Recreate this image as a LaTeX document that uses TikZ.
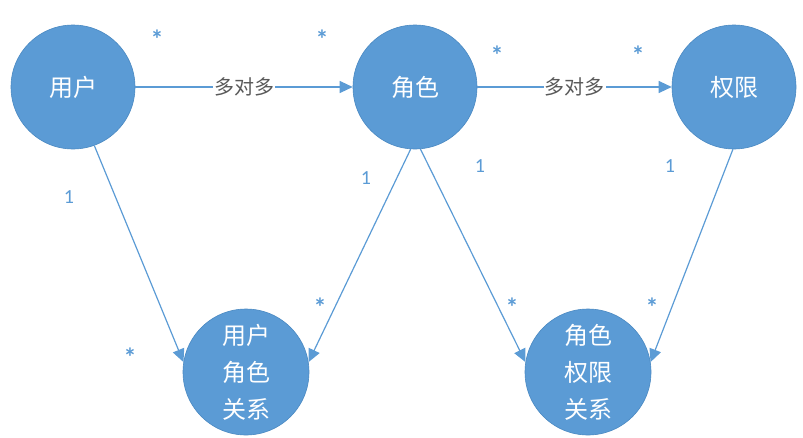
\documentclass[tikz,border=0pt]{standalone}
\usepackage{fontspec}
\setmainfont{Noto Sans CJK SC}
\newfontfamily\numfont{Carlito}
\usetikzlibrary{arrows.meta}
\definecolor{nodeblue}{HTML}{5B9BD5}
\definecolor{edgeblue}{HTML}{4A89C2}
\definecolor{labelgray}{HTML}{595959}

\begin{document}
\begin{tikzpicture}[x=1pt, y=-1pt,
		ent/.style={circle, fill=nodeblue, draw=edgeblue, line width=0.6pt, minimum size=124pt, inner sep=0pt,
			text=white, align=center, font=\fontsize{24}{37}\selectfont},
		rel/.style={draw=nodeblue, line width=1.2pt, -{Triangle[length=13pt, width=12pt]}},
		kind/.style={fill=white, inner sep=1pt, text=labelgray, font=\fontsize{20}{20}\selectfont},
		mult/.style={text=nodeblue, inner sep=0pt, font=\numfont\fontsize{20}{20}\selectfont},
		star/.style={text=nodeblue, inner sep=0pt, font=\numfont\bfseries\fontsize{26}{26}\selectfont}]
		\useasboundingbox (0,0) rectangle (803,437);
		
		% top
		\node[ent] (user) at (73, 87) {用户};
		\node[ent] (role) at (415, 87) {角色};
		\node[ent] (perm) at (734, 87) {权限};
		\draw[rel] (user.east) -- node[kind] {多对多} (role.west);
		\draw[rel] (role.east) -- node[kind] {多对多} (perm.west);
		
		% bottom
		\node[ent, minimum size=126pt] (userrole) at (246, 372) {用户\\角色\\关系};
		\node[ent, minimum size=126pt] (roleperm) at (588, 372) {角色\\权限\\关系};
		\draw[rel] (user.-70) -- (userrole.171);
		\draw[rel] (role.-94) -- (userrole.9);
		\draw[rel] (role.-85) -- (roleperm.171);
		\draw[rel] (perm.-91) -- (roleperm.9);
		
		% multiplicities
		\node[star] (s1) at (157, 39) {*};
		\node[star] (s2) at (322, 39) {*};
		\node[star] (s3) at (497, 55) {*};
		\node[star] (s4) at (638, 55) {*};
		\node[star] (s5) at (130, 357) {*};
		\node[star] (s6) at (320, 307) {*};
		\node[star] (s7) at (512, 307) {*};
		\node[star] (s8) at (652, 307) {*};
		\node[mult] (o1) at (69, 197) {1};
		\node[mult] (o2) at (366, 178) {1};
		\node[mult] (o3) at (480, 166) {1};
		\node[mult] (o4) at (670, 166) {1};
	\end{tikzpicture}
\end{document}
